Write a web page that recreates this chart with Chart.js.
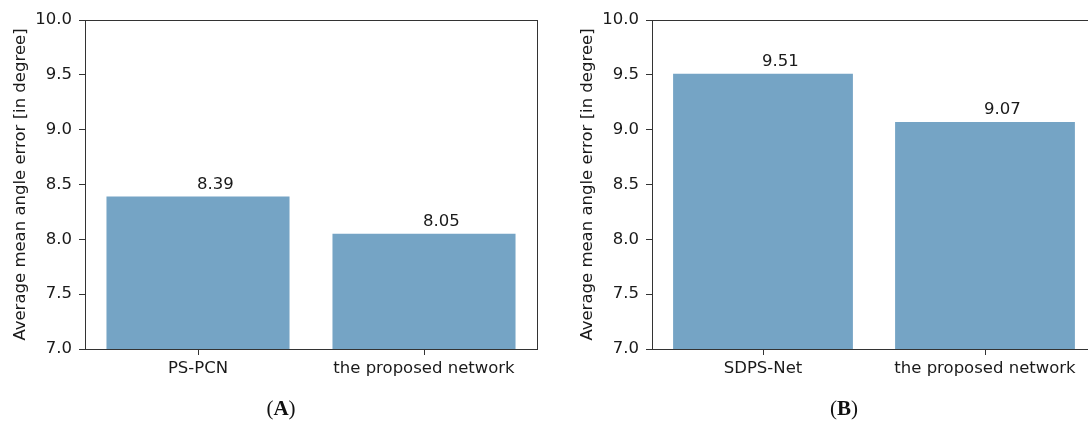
<!DOCTYPE html>
<html>
<head>
<meta charset="utf-8">
<script src="https://cdn.jsdelivr.net/npm/chart.js@4"></script>
<style>
  html, body { margin: 0; padding: 0; background: #fff; }
  body { width: 1088px; height: 426px; overflow: hidden; position: relative; }
  canvas { position: absolute; top: 0; }
  #chartA { left: 0; }
  #chartB { left: 567px; }
  .caption {
    position: absolute; top: 396px; width: 100px; text-align: center;
    font-family: "Liberation Serif", "DejaVu Serif", serif; font-size: 21px; color: #111;
  }
</style>
</head>
<body>
<canvas id="chartA" width="545" height="426"></canvas>
<canvas id="chartB" width="537" height="426"></canvas>
<div class="caption" style="left:231px">(<b>A</b>)</div>
<div class="caption" style="left:794px">(<b>B</b>)</div>
<script>
// Panel A / panel B: error medio de ángulo
const categoriesA = ['PS-PCN', 'the proposed network'];
const valuesA     = [8.39, 8.05];
const categoriesB = ['SDPS-Net', 'the proposed network'];
const valuesB     = [9.51, 9.07];
const yMin  = 7.0;
const yMax  = 10.0;
const yStep = 0.5;
const yTitle = 'Average mean angle error [in degree]';

const FONT = "'DejaVu Sans', sans-serif";
const TEXT = '#1a1a1a';
const AXIS = '#333333';
const BAR  = 'rgb(117,164,197)';

/** Marco completo alrededor del área del gráfico (estilo matplotlib) */
const framePlugin = {
  id: 'frame',
  afterDraw(chart) {
    const { ctx, chartArea: a } = chart;
    ctx.save();
    ctx.strokeStyle = AXIS;
    ctx.lineWidth = 1;
    ctx.strokeRect(a.left + 0.5, a.top + 0.5, a.right - a.left, a.bottom - a.top);
    ctx.restore();
  },
};

/** Etiqueta de valor sobre cada barra, alineada a la izquierda en el centro */
const valueLabels = {
  id: 'valueLabels',
  afterDatasetsDraw(chart) {
    const { ctx } = chart;
    const meta = chart.getDatasetMeta(0);
    const data = chart.data.datasets[0].data;
    ctx.save();
    ctx.font = `16.5px ${FONT}`;
    ctx.fillStyle = TEXT;
    ctx.textAlign = 'left';
    ctx.textBaseline = 'alphabetic';
    meta.data.forEach((bar, i) => {
      ctx.fillText(data[i].toFixed(2), bar.x - 1, bar.y - 7.5);
    });
    ctx.restore();
  },
};

function makeChart(canvasId, labels, values, rightPad) {
  return new Chart(document.getElementById(canvasId), {
    type: 'bar',
    data: {
      labels,
      datasets: [{
        data: values,
        backgroundColor: BAR,
        borderWidth: 0,
        barPercentage: 0.81,
        categoryPercentage: 1.0,
      }],
    },
    options: {
      responsive: false,
      animation: false,
      layout: { padding: { left: 0, right: rightPad, top: 20, bottom: 0 } },
      plugins: { legend: { display: false }, tooltip: { enabled: false } },
      scales: {
        x: {
          offset: true,
          grid: { display: true, drawOnChartArea: false, offset: false, tickLength: 6, color: AXIS },
          border: { display: false },
          ticks: { font: { family: FONT, size: 16.5 }, color: TEXT, padding: 4, maxRotation: 0 },
          afterFit: s => { s.height = 77; },
        },
        y: {
          min: yMin,
          max: yMax,
          grid: { display: true, drawOnChartArea: false, tickLength: 6, color: AXIS },
          border: { display: false },
          ticks: {
            stepSize: yStep,
            font: { family: FONT, size: 16.5 },
            color: TEXT,
            padding: 7,
            callback: v => v.toFixed(1),
          },
          title: {
            display: true,
            text: yTitle,
            font: { family: FONT, size: 16.5 },
            color: TEXT,
            padding: { top: 10.5, bottom: 0 },
          },
          afterFit: s => { s.width = 85; },
        },
      },
    },
    plugins: [framePlugin, valueLabels],
  });
}

makeChart('chartA', categoriesA, valuesA, 8);
makeChart('chartB', categoriesB, valuesB, 8);
</script>
</body>
</html>
